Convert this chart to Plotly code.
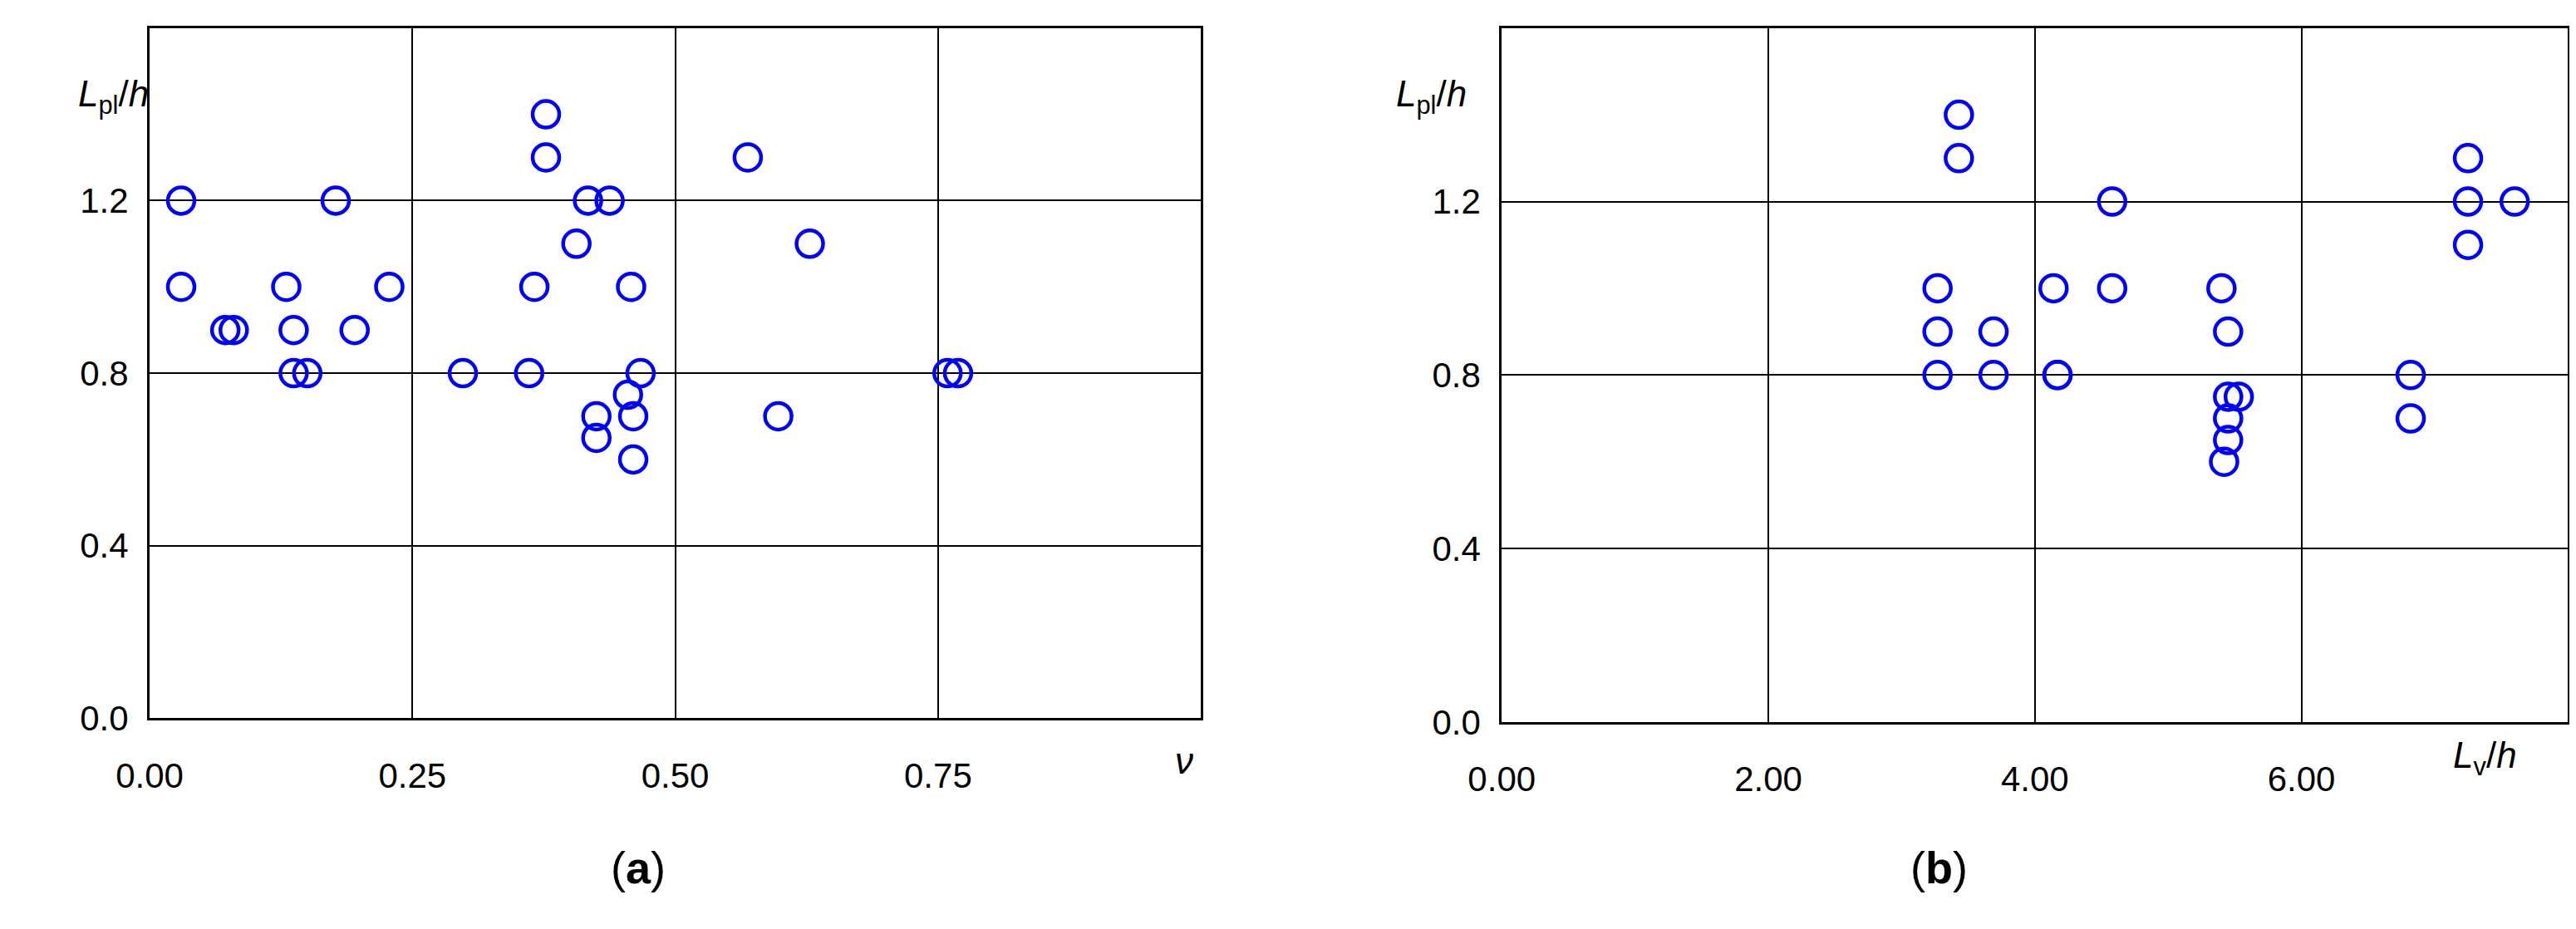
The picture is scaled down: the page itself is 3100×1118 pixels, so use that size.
import plotly.graph_objects as go

nu = [0.03,0.03,0.072,0.08,0.13,0.137,0.137,0.15,0.177,0.195,0.228,0.298,0.361,0.366,0.377,0.377,0.406,0.417,0.4375,0.425,0.425,0.458,0.455,0.46,0.46,0.467,0.569,0.598,0.628,0.759,0.769]
lpl_a = [1.2,1.0,0.9,0.9,1.0,0.9,0.8,0.8,1.2,0.9,1.0,0.8,0.8,1.0,1.4,1.3,1.1,1.2,1.2,0.7,0.65,1.0,0.75,0.7,0.6,0.8,1.3,0.7,1.1,0.8,0.8]
lv = [3.27,3.27,3.27,3.43,3.43,3.69,3.69,4.14,4.17,4.17,4.58,4.58,5.4,5.45,5.45,5.45,5.45,5.42,5.53,6.82,6.82,7.25,7.25,7.25,7.6]
lpl_b = [1.0,0.9,0.8,1.4,1.3,0.9,0.8,1.0,0.8,0.8,1.2,1.0,1.0,0.9,0.75,0.7,0.65,0.6,0.75,0.8,0.7,1.3,1.2,1.1,1.2]
xa_ticks = [0, 0.25, 0.5, 0.75]
xa_text = ["0.00", "0.25", "0.50", "0.75"]
xb_ticks = [0, 2, 4, 6]
xb_text = ["0.00", "2.00", "4.00", "6.00"]
y_ticks = [0, 0.4, 0.8, 1.2]
y_text = ["0.0", "0.4", "0.8", "1.2"]

FONT = "Liberation Sans"
mk = dict(symbol="circle-open", size=32, color="#0000ff", line=dict(width=4.5, color="#0000ff"))
fig = go.Figure()
fig.add_trace(go.Scatter(x=nu, y=lpl_a, mode="markers", marker=mk, xaxis="x", yaxis="y", cliponaxis=False))
fig.add_trace(go.Scatter(x=lv, y=lpl_b, mode="markers", marker=mk, xaxis="x2", yaxis="y2", cliponaxis=False))

ax = dict(showline=True, linecolor="black", linewidth=3, mirror=True, showgrid=True, gridcolor="black", gridwidth=1.5,
          zeroline=False, ticks="", automargin=False, tickfont=dict(family=FONT, size=42, color="black"))
fig.update_layout(
    width=3100, height=1118, paper_bgcolor="white", plot_bgcolor="white", showlegend=False,
    margin=dict(l=0, r=0, t=0, b=0),
    xaxis=dict(ax, domain=[0.0555, 0.4636], range=[0, 1.0], tickvals=xa_ticks, ticktext=xa_text, anchor="y", ticklabelstandoff=30),
    yaxis=dict(ax, domain=[0.234, 0.977], range=[0, 1.6], tickvals=y_ticks, ticktext=y_text, anchor="x", ticklabelstandoff=14),
    xaxis2=dict(ax, domain=[0.5804, 0.9943], range=[0, 8], tickvals=xb_ticks, ticktext=xb_text, anchor="y2", ticklabelstandoff=30),
    yaxis2=dict(ax, domain=[0.23, 0.977], range=[0, 1.6], tickvals=y_ticks, ticktext=y_text, anchor="x2", ticklabelstandoff=14),
)
def ann(x, y, t, size=44):
    fig.add_annotation(x=x, y=y, xref="paper", yref="paper", text=t, showarrow=False,
                       font=dict(family=FONT, size=size, color="black"))
ann(0.027, 0.93, "<i>L</i><sub>pl</sub>/<i>h</i>")
ann(0.553, 0.93, "<i>L</i><sub>pl</sub>/<i>h</i>")
ann(0.457, 0.165, "<i>ν</i>")
ann(0.975, 0.165, "<i>L</i><sub>v</sub>/<i>h</i>")
ann(0.234, 0.045, "(<b>a</b>)", 54)
ann(0.762, 0.045, "(<b>b</b>)", 54)
fig.write_html("out.html")
